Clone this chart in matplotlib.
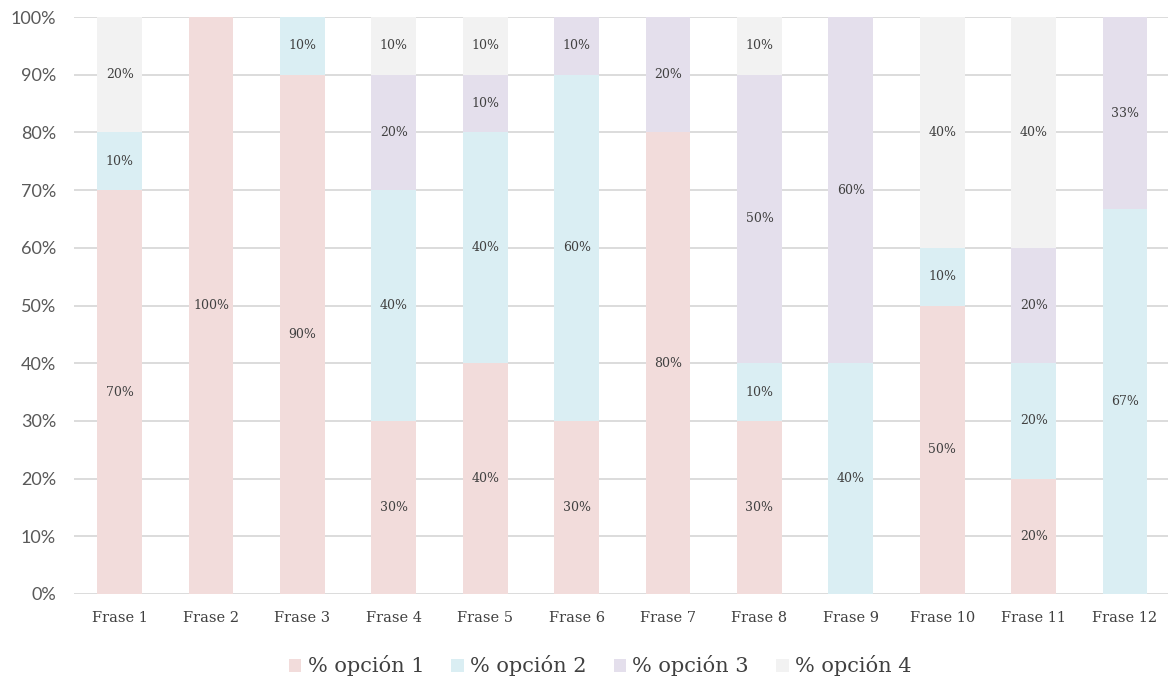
import matplotlib
matplotlib.use("Agg")
import matplotlib.pyplot as plt
import numpy as np

frases = ["Frase %d" % i for i in range(1, 13)]
op1 = [70, 100, 90, 30, 40, 30, 80, 30, 0, 50, 20, 0]
op2 = [10, 0, 10, 40, 40, 60, 0, 10, 40, 10, 20, 66.67]
op3 = [0, 0, 0, 20, 10, 10, 20, 50, 60, 0, 20, 33.33]
op4 = [20, 0, 0, 10, 10, 0, 0, 10, 0, 40, 40, 0]
series = [op1, op2, op3, op4]
names = ["% opción 1", "% opción 2", "% opción 3", "% opción 4"]
colors = ["#F2DCDB", "#DAEEF3", "#E4DFEC", "#F2F2F2"]

fig = plt.figure(figsize=(11.68, 6.79), dpi=100)
ax = fig.add_axes([74 / 1168, 85 / 679, 1 - 74 / 1168, 577 / 679])

x = np.arange(len(frases))
bottom = np.zeros(len(frases))
handles = []
for vals, name, col in zip(series, names, colors):
    vals = np.array(vals, dtype=float)
    b = ax.bar(x, vals, 0.49, bottom=bottom, color=col, label=name, zorder=2)
    handles.append(b)
    for xi, v, bt in zip(x, vals, bottom):
        if v > 0:
            ax.text(xi, bt + v / 2, "%d%%" % round(v), ha="center", va="center",
                    fontsize=9, family="DejaVu Serif", color="#404040", zorder=3)
    bottom += vals

ax.set_ylim(0, 100)
ax.set_xlim(-0.5, 11.47)
ax.set_yticks(np.arange(0, 101, 10))
ax.set_yticklabels(["%d%%" % v for v in range(0, 101, 10)], family="Lato",
                   fontsize=13, color="#595959")
ax.set_xticks(x)
ax.set_xticklabels(frases, family="DejaVu Serif", fontsize=10.5, color="#404040")
ax.tick_params(length=0)
ax.tick_params(axis="y", pad=13)
ax.tick_params(axis="x", pad=12)
ax.yaxis.grid(True, color="#D9D9D9", linewidth=1.3, zorder=0)
ax.set_axisbelow(True)
for s in ax.spines.values():
    s.set_visible(False)

leg = fig.legend(handles=handles, loc="center", bbox_to_anchor=(600 / 1168, 13 / 679), ncol=4,
                 frameon=False, prop={"family": "DejaVu Serif", "size": 15},
                 handlelength=0.6, handleheight=0.6, handletextpad=0.3, columnspacing=1.3)
for t in leg.get_texts():
    t.set_color("#404040")

fig.savefig("out.png", dpi=100)
